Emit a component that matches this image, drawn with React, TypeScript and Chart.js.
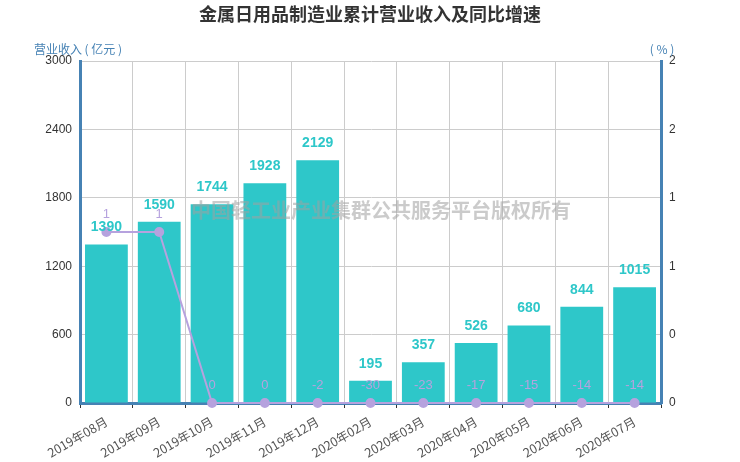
import Chart from 'chart.js/auto';
import { useEffect, useRef } from 'react';

const months = [
	'2019年08月', '2019年09月', '2019年10月', '2019年11月', '2019年12月',
	'2020年02月', '2020年03月', '2020年04月', '2020年05月', '2020年06月', '2020年07月',
];
const revenue = [1390, 1590, 1744, 1928, 2129, 195, 357, 526, 680, 844, 1015];
const growth = [1.25, 1.25, 0, 0, -2, -30, -23, -17, -15, -14, -14];

const TEAL = '#2ec7c9';
const PURPLE = '#b6a2de';
const AXIS_BLUE = '#4682b4';
const CJK = '"Noto Sans CJK SC", "Liberation Sans", sans-serif';
const LATIN = '"Liberation Sans", Arial, sans-serif';

// text drawn on top of the chart: title, axis names, watermark, value labels
const overlayPlugin = {
	id: 'overlay',
	afterDatasetsDraw(chart: any) {
		const { ctx, chartArea } = chart;
		ctx.save();

		// bar labels
		const barMeta = chart.getDatasetMeta(1);
		ctx.font = `bold 14px ${LATIN}`;
		ctx.fillStyle = TEAL;
		ctx.textAlign = 'center';
		ctx.textBaseline = 'middle';
		barMeta.data.forEach((el: any, i: number) => {
			ctx.fillText(String(revenue[i]), el.x, el.y - 17);
		});

		// line labels
		const lineMeta = chart.getDatasetMeta(0);
		ctx.font = `13px ${LATIN}`;
		ctx.fillStyle = PURPLE;
		lineMeta.data.forEach((el: any, i: number) => {
			ctx.fillText(String(Math.round(growth[i])), el.x, el.y - 18);
		});

		// watermark
		ctx.font = `bold 20px ${CJK}`;
		ctx.fillStyle = 'rgba(160,160,160,0.55)';
		ctx.fillText('中国轻工业产业集群公共服务平台版权所有', 381, 210);

		// title
		ctx.font = `bold 18px ${CJK}`;
		ctx.fillStyle = '#333';
		ctx.fillText('金属日用品制造业累计营业收入及同比增速', 370, 14);

		// axis names
		ctx.font = `12px ${CJK}`;
		ctx.fillStyle = AXIS_BLUE;
		ctx.fillText('营业收入 ( 亿元 )', chartArea.left - 2, 49);
		ctx.fillText('( % )', chartArea.right + 1, 49);
		ctx.restore();
	},
};

function App() {
	const chartRef = useRef<HTMLCanvasElement | null>(null);

	useEffect(() => {
		document.body.style.margin = '0';
		if (!chartRef.current) return;
		const existing = Chart.getChart(chartRef.current);
		if (existing) existing.destroy();

		const chart = new Chart(chartRef.current, {
			type: 'bar',
			data: {
				labels: months,
				datasets: [
					{
						type: 'line',
						label: '同比增速',
						// the original chart pins values below the axis minimum to 0
						data: growth.map((v) => Math.max(v, 0)),
						yAxisID: 'y1',
						borderColor: PURPLE,
						backgroundColor: PURPLE,
						borderWidth: 2,
						pointRadius: 4,
						pointBackgroundColor: PURPLE,
						pointBorderColor: PURPLE,
						tension: 0,
						clip: false,
						order: 0,
					},
					{
						type: 'bar',
						label: '营业收入',
						data: revenue,
						yAxisID: 'y',
						backgroundColor: TEAL,
						barPercentage: 0.81,
						categoryPercentage: 1,
						order: 1,
					},
				],
			},
			options: {
				responsive: false,
				animation: false,
				layout: { padding: { top: 61, left: 0, right: 0, bottom: 0 } },
				plugins: {
					legend: { display: false },
					title: { display: false },
					tooltip: { enabled: false },
				},
				scales: {
					x: {
						offset: true,
						grid: {
							offset: true,
							color: '#ccc',
							drawTicks: true,
							tickLength: 5,
							tickColor: '#333',
						},
						border: { color: AXIS_BLUE, width: 3 },
						ticks: {
							maxRotation: 30,
							minRotation: 30,
							autoSkip: false,
							color: '#555',
							padding: 6,
							font: { size: 12.5, family: CJK },
						},
						afterFit: (axis: any) => {
							axis.height = 59;
						},
					},
					y: {
						position: 'left',
						min: 0,
						max: 3000,
						ticks: {
							stepSize: 600,
							color: '#333',
							padding: 8,
							font: { size: 12, family: LATIN },
							callback: (v: any) => String(v),
						},
						grid: { color: '#ccc', drawTicks: false },
						border: { color: AXIS_BLUE, width: 3 },
						afterFit: (axis: any) => {
							axis.width = 80;
						},
					},
					y1: {
						position: 'right',
						min: 0,
						max: 2.5,
						ticks: {
							stepSize: 0.5,
							color: '#333',
							padding: 8,
							font: { size: 12, family: LATIN },
							callback: (v: any) => String(Math.floor(Number(v))),
						},
						grid: { display: false, drawTicks: false },
						border: { color: AXIS_BLUE, width: 3 },
						afterFit: (axis: any) => {
							axis.width = 79;
						},
					},
				},
			},
			plugins: [overlayPlugin],
		});

		return () => {
			chart.destroy();
		};
	}, []);

	return (
		<div style={{ width: 740, height: 462 }}>
			<canvas ref={chartRef} width={740} height={462}></canvas>
		</div>
	);
}

export default App;
